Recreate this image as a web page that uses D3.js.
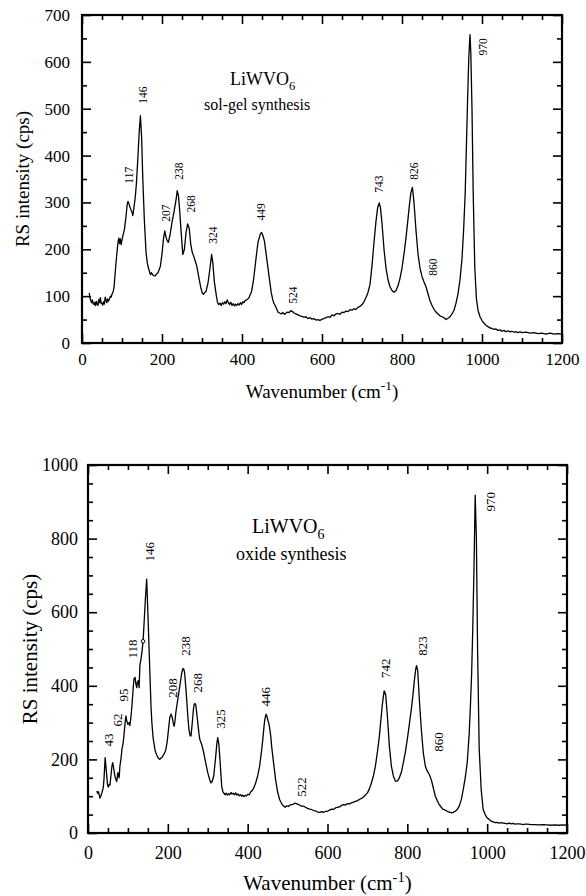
<!DOCTYPE html>
<html>
<head>
<meta charset="utf-8">
<script src="https://cdn.jsdelivr.net/npm/d3@7"></script>
<style>
body { margin: 0; background: #fff; }
svg text { font-family: "Liberation Serif", "Times New Roman", serif; fill: #000; }
</style>
</head>
<body>
<svg id="chart" width="586" height="896"></svg>
<script>
// sol-gel spectrum, [wavenumber, cps]
var solgelSpectrum = [[18,107],[20,96],[22,90],[24,86],[26,92],[28,84],[30,82],[32,87],[34,80],[36,89],[38,83],[40,80],[42,93],[44,86],[46,97],[48,84],[50,85],[52,81],[54,88],[56,83],[58,98],[60,92],[62,86],[64,94],[66,89],[68,93],[71,100],[73,98],[75,104],[78,110],[80,118],[83,150],[87,190],[90,215],[92,224],[94,212],[96,222],[98,210],[100,220],[103,232],[106,242],[110,270],[113,296],[115,302],[117,298],[120,290],[123,283],[125,279],[127,272],[130,290],[133,310],[136,340],[140,400],[143,450],[146,485],[149,440],[152,350],[156,260],[160,195],[163,172],[166,160],[169,152],[171,146],[174,150],[176,146],[179,144],[183,143],[186,147],[190,150],[193,157],[196,164],[200,190],[204,225],[207,239],[210,226],[213,218],[216,215],[220,230],[225,258],[230,280],[235,305],[238,325],[241,315],[244,285],[248,235],[252,189],[256,200],[260,235],[264,254],[268,245],[272,210],[276,192],[279,186],[283,175],[287,164],[292,140],[297,118],[301,106],[304,104],[307,108],[310,110],[315,128],[320,160],[324,189],[327,172],[331,130],[336,100],[339,86],[342,82],[345,85],[348,80],[351,86],[354,83],[357,88],[360,84],[363,92],[366,86],[369,82],[372,87],[375,80],[378,84],[381,79],[384,83],[387,80],[390,84],[393,81],[396,86],[399,82],[402,88],[405,86],[408,91],[412,92],[417,96],[421,104],[424,110],[429,136],[435,180],[440,215],[446,233],[449,236],[452,230],[456,218],[462,179],[468,140],[473,108],[477,92],[480,84],[483,80],[487,72],[490,66],[494,64],[498,62],[502,65],[506,61],[510,64],[514,66],[518,65],[522,69],[526,67],[530,64],[535,62],[540,60],[545,58],[550,57],[555,55],[560,56],[565,52],[570,54],[575,51],[580,52],[585,49],[590,50],[595,48],[600,51],[605,52],[610,54],[615,56],[620,55],[625,60],[630,58],[635,62],[640,63],[645,61],[650,66],[655,65],[660,68],[665,67],[670,71],[675,70],[680,73],[685,72],[690,76],[695,78],[700,82],[705,88],[710,97],[715,108],[720,125],[725,165],[730,215],[735,260],[739,288],[743,299],[746,290],[750,255],[755,200],[760,160],[765,135],[770,120],[775,112],[780,108],[785,112],[790,122],[795,138],[800,160],[805,190],[810,225],[815,265],[818,290],[822,320],[826,332],[830,300],[835,240],[840,190],[845,160],[850,142],[855,130],[860,120],[865,105],[870,90],[875,80],[880,72],[885,66],[890,62],[895,58],[900,56],[905,54],[910,50],[915,53],[920,56],[925,62],[930,70],[935,85],[940,105],[945,135],[950,180],[954,240],[958,320],[961,420],[964,520],[967,610],[970,658],[972,620],[975,500],[978,320],[982,160],[986,95],[990,70],[995,56],[1000,48],[1005,42],[1010,38],[1015,35],[1020,32],[1025,31],[1030,29],[1035,30],[1040,27],[1045,28],[1050,25],[1055,27],[1060,24],[1065,26],[1070,24],[1075,25],[1080,23],[1085,24],[1090,22],[1095,24],[1100,22],[1110,23],[1120,21],[1130,22],[1140,20],[1150,21],[1160,19],[1170,21],[1180,19],[1190,20],[1200,19]];

// oxide spectrum, [wavenumber, cps]
var oxideSpectrum = [[22,114],[24,108],[26,112],[28,104],[30,95],[32,100],[35,110],[38,122],[40,145],[42,185],[43,205],[45,180],[47,155],[49,130],[51,125],[53,132],[55,130],[57,150],[60,182],[62,191],[64,178],[66,164],[68,152],[70,145],[72,140],[75,164],[78,150],[80,182],[83,205],[85,227],[88,245],[90,264],[93,300],[95,318],[97,305],[100,295],[103,300],[105,292],[108,320],[110,345],[113,390],[115,418],[118,423],[120,405],[122,395],[124,410],[126,414],[128,395],[130,455],[133,475],[135,491],[138,521],[141,580],[144,640],[147,690],[150,600],[153,500],[155,436],[158,340],[160,300],[163,260],[165,245],[168,225],[170,218],[173,210],[175,205],[178,202],[180,200],[183,204],[185,205],[188,210],[190,214],[193,220],[195,227],[198,245],[200,264],[203,295],[205,314],[208,323],[210,318],[212,309],[214,296],[216,290],[218,305],[220,327],[225,364],[230,400],[235,436],[238,447],[240,445],[242,436],[246,382],[250,318],[253,280],[256,264],[258,264],[260,285],[262,309],[264,335],[266,350],[268,352],[270,348],[273,320],[275,300],[278,270],[280,255],[285,240],[290,218],[295,190],[300,164],[304,148],[308,136],[311,140],[315,155],[320,209],[323,245],[325,259],[328,240],[330,209],[333,160],[335,127],[338,112],[340,109],[343,104],[346,108],[349,103],[352,107],[355,104],[358,110],[361,106],[364,108],[367,104],[370,109],[373,103],[376,106],[379,101],[382,104],[385,100],[388,103],[391,99],[394,102],[397,101],[400,105],[404,104],[408,112],[412,116],[416,124],[420,136],[425,155],[430,182],[435,225],[438,255],[441,290],[443,309],[446,323],[448,318],[450,309],[453,298],[455,286],[458,262],[460,236],[465,190],[470,145],[475,112],[480,91],[485,80],[490,73],[494,70],[498,74],[502,72],[506,76],[510,77],[514,78],[518,81],[522,80],[526,78],[530,76],[535,73],[540,73],[545,70],[550,67],[555,65],[560,64],[565,61],[570,60],[575,57],[580,56],[585,58],[590,56],[595,59],[600,59],[605,62],[610,65],[615,64],[620,68],[625,70],[630,71],[635,75],[640,77],[645,76],[650,80],[655,79],[660,82],[665,84],[670,86],[675,88],[680,91],[685,94],[690,98],[695,103],[700,109],[705,120],[710,136],[715,155],[720,182],[725,220],[730,264],[734,310],[737,345],[740,372],[742,386],[744,382],[746,373],[750,318],[755,236],[760,182],[765,155],[770,141],[775,141],[780,150],[785,165],[790,191],[795,220],[800,255],[805,295],[810,336],[815,385],[818,418],[821,445],[823,455],[826,441],[830,364],[835,282],[840,218],[845,182],[850,168],[855,159],[860,145],[865,123],[870,100],[875,88],[880,77],[885,70],[890,64],[895,62],[900,59],[905,57],[910,55],[915,56],[920,59],[925,64],[930,73],[935,90],[940,118],[945,150],[950,191],[955,270],[958,345],[961,430],[964,560],[967,720],[970,918],[973,800],[976,500],[980,230],[985,118],[990,64],[995,50],[1000,41],[1005,37],[1010,32],[1015,30],[1020,28],[1025,29],[1030,27],[1035,28],[1040,27],[1045,26],[1050,25],[1055,27],[1060,25],[1065,26],[1070,24],[1075,25],[1080,25],[1085,24],[1090,23],[1095,24],[1100,24],[1110,23],[1120,23],[1130,22],[1140,23],[1150,22],[1160,21],[1170,22],[1180,21],[1190,22],[1200,21]];
var oxideDot = [[138, 521]];

// peak annotations: text, wavenumber and intensity where the label sits
var solgelPeaks = ["117", "146", "207", "238", "268", "324", "449", "524", "743", "826", "860", "970"];
var solgelPeakW = [127, 162, 220, 252, 282, 337, 457, 537, 752, 840, 887, 1012];
var solgelPeakV = [358, 529, 277, 367, 297, 230, 280, 102, 339, 367, 162, 632];

var oxidePeaks = ["43", "62", "95", "118", "146", "208", "238", "268", "325", "446", "522", "742", "823", "860", "970"];
var oxidePeakW = [63, 85, 100, 123, 165, 223, 255, 286, 343, 456, 546, 757, 849, 889, 1020];
var oxidePeakV = [253, 307, 375, 500, 764, 394, 508, 408, 310, 370, 125, 448, 508, 247, 900];

var xTicks = [0, 200, 400, 600, 800, 1000, 1200];
var yTicksTop = [0, 100, 200, 300, 400, 500, 600, 700];
var yTicksBottom = [0, 200, 400, 600, 800, 1000];

var svg = d3.select("#chart");

ShowPanel({
    left: 82, right: 562, top: 15, bottom: 343,
    ymax: 700, yTicks: yTicksTop,
    spectrum: solgelSpectrum,
    peaks: solgelPeaks, peakW: solgelPeakW, peakV: solgelPeakV,
    tickFont: 17, xPad: 10, yPad: 12,
    peakFont: 11.5,
    titleFont: 19, titleY: 398, yTitleX: 22,
    nameX: 230, nameY: 85, nameFont: 18,
    sub: "sol-gel synthesis", subX: 204, subY: 110, subFont: 16
});

ShowPanel({
    left: 88, right: 567, top: 465, bottom: 833,
    ymax: 1000, yTicks: yTicksBottom,
    spectrum: oxideSpectrum, dots: oxideDot,
    peaks: oxidePeaks, peakW: oxidePeakW, peakV: oxidePeakV,
    tickFont: 18, xPad: 13, yPad: 10,
    peakFont: 13,
    titleFont: 21, titleY: 890, yTitleX: 30,
    nameX: 252, nameY: 533, nameFont: 20,
    sub: "oxide synthesis", subX: 236, subY: 560, subFont: 18
});

function minorOf(step, max, major) {
    var out = [];
    for (var v = 0; v <= max; v += step) {
        if (major.indexOf(v) < 0) out.push(v);
    }
    return out;
}

function ShowPanel(cfg) {
    var x = d3.scaleLinear().domain([0, 1200]).range([cfg.left, cfg.right]);
    var y = d3.scaleLinear().domain([0, cfg.ymax]).range([cfg.bottom, cfg.top]);
    var g = svg.append("g");

    var xMinor = minorOf(50, 1200, xTicks);
    var yMinor = minorOf(50, cfg.ymax, cfg.yTicks);

    // bottom axis with labels, ticks pointing inward
    g.append("g").attr("transform", "translate(0," + cfg.bottom + ")")
        .call(d3.axisBottom(x).tickValues(xTicks).tickSize(-9).tickPadding(cfg.xPad).tickFormat(d3.format("d")))
        .call(styleAxis, cfg.tickFont);
    g.append("g").attr("transform", "translate(0," + cfg.bottom + ")")
        .call(d3.axisBottom(x).tickValues(xMinor).tickSize(-5).tickFormat(""))
        .call(styleAxis, cfg.tickFont);
    // top mirror
    g.append("g").attr("transform", "translate(0," + cfg.top + ")")
        .call(d3.axisTop(x).tickValues(xTicks).tickSize(-9).tickFormat(""))
        .call(styleAxis, cfg.tickFont);
    g.append("g").attr("transform", "translate(0," + cfg.top + ")")
        .call(d3.axisTop(x).tickValues(xMinor).tickSize(-5).tickFormat(""))
        .call(styleAxis, cfg.tickFont);
    // left axis
    g.append("g").attr("transform", "translate(" + cfg.left + ",0)")
        .call(d3.axisLeft(y).tickValues(cfg.yTicks).tickSize(-9).tickPadding(cfg.yPad).tickFormat(d3.format("d")))
        .call(styleAxis, cfg.tickFont);
    g.append("g").attr("transform", "translate(" + cfg.left + ",0)")
        .call(d3.axisLeft(y).tickValues(yMinor).tickSize(-5).tickFormat(""))
        .call(styleAxis, cfg.tickFont);
    // right mirror
    g.append("g").attr("transform", "translate(" + cfg.right + ",0)")
        .call(d3.axisRight(y).tickValues(cfg.yTicks).tickSize(-9).tickFormat(""))
        .call(styleAxis, cfg.tickFont);
    g.append("g").attr("transform", "translate(" + cfg.right + ",0)")
        .call(d3.axisRight(y).tickValues(yMinor).tickSize(-5).tickFormat(""))
        .call(styleAxis, cfg.tickFont);

    // frame
    g.append("rect")
        .attr("x", cfg.left).attr("y", cfg.top)
        .attr("width", cfg.right - cfg.left).attr("height", cfg.bottom - cfg.top)
        .attr("fill", "none").attr("stroke", "#000").attr("stroke-width", 2.2);

    // spectrum
    var line = d3.line().x(function (d) { return x(d[0]); }).y(function (d) { return y(d[1]); });
    g.append("path")
        .datum(cfg.spectrum)
        .attr("d", line)
        .attr("fill", "none").attr("stroke", "#000").attr("stroke-width", 1.3)
        .attr("stroke-linejoin", "round");

    if (cfg.dots) {
        g.selectAll("circle.dot").data(cfg.dots).enter().append("circle")
            .attr("cx", function (d) { return x(d[0]); })
            .attr("cy", function (d) { return y(d[1]); })
            .attr("r", 1.8).attr("fill", "#fff").attr("stroke", "#000").attr("stroke-width", 1);
    }

    // peak labels, rotated
    g.selectAll("text.peak").data(cfg.peaks).enter().append("text")
        .attr("class", "peak")
        .attr("transform", function (d, i) {
            return "translate(" + x(cfg.peakW[i]) + "," + y(cfg.peakV[i]) + ") rotate(-90)";
        })
        .attr("text-anchor", "middle")
        .style("font-size", cfg.peakFont + "px")
        .text(function (d) { return d; });

    // compound name
    var name = g.append("text").attr("x", cfg.nameX).attr("y", cfg.nameY)
        .style("font-size", cfg.nameFont + "px");
    name.append("tspan").text("LiWVO");
    name.append("tspan").attr("dy", cfg.nameFont * 0.3).style("font-size", (cfg.nameFont * 0.7) + "px").text("6");

    g.append("text").attr("x", cfg.subX).attr("y", cfg.subY)
        .style("font-size", cfg.subFont + "px").text(cfg.sub);

    // axis titles
    var xt = g.append("text")
        .attr("x", (cfg.left + cfg.right) / 2).attr("y", cfg.titleY)
        .attr("text-anchor", "middle")
        .style("font-size", cfg.titleFont + "px");
    xt.append("tspan").text("Wavenumber (cm");
    xt.append("tspan").attr("dy", -cfg.titleFont * 0.4).style("font-size", (cfg.titleFont * 0.7) + "px").text("-1");
    xt.append("tspan").attr("dy", cfg.titleFont * 0.4).text(")");

    g.append("text")
        .attr("transform", "translate(" + cfg.yTitleX + "," + ((cfg.top + cfg.bottom) / 2) + ") rotate(-90)")
        .attr("text-anchor", "middle")
        .attr("dy", "0.35em")
        .style("font-size", cfg.titleFont + "px")
        .text("RS intensity (cps)");
}

function styleAxis(sel, fontSize) {
    sel.select(".domain").remove();
    sel.selectAll(".tick line").attr("stroke", "#000").attr("stroke-width", 1.6);
    sel.selectAll(".tick text")
        .style("font-family", "'Liberation Serif', serif")
        .style("font-size", fontSize + "px")
        .attr("fill", "#000");
}
</script>
</body>
</html>
